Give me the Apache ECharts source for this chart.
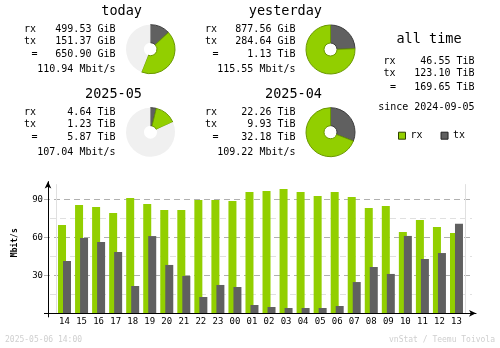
<!DOCTYPE html>
<html>
<head>
<meta charset="utf-8">
<script src="https://cdn.jsdelivr.net/npm/echarts@6/dist/echarts.min.js"></script>
<style>
  html, body { margin: 0; padding: 0; background: #ffffff; }
  #chart { width: 500px; height: 348px; }
</style>
</head>
<body>
<div id="chart"></div>
<script>
// ---- hourly traffic (average Mbit/s per hour) ----
const hours = ['14','15','16','17','18','19','20','21','22','23','00','01','02','03','04','05','06','07','08','09','10','11','12','13'];
const rxMbit = [69.7, 85.5, 83.9, 79.2, 91.0, 86.3, 81.6, 81.6, 89.5, 89.5, 88.7, 95.8, 96.6, 98.2, 95.8, 92.6, 95.8, 91.8, 83.1, 84.7, 64.2, 73.7, 68.2, 63.4];
const txMbit = [41.3, 59.5, 56.3, 48.4, 21.6, 61.0, 38.2, 29.5, 12.9, 22.4, 20.8, 6.6, 5.0, 4.2, 4.2, 4.2, 5.8, 24.7, 36.6, 31.1, 61.1, 42.9, 47.6, 70.8];
const yTickValues = [30, 60, 90];
const dayBreakIndex = 10; // first hour of the new day ("00")

// ---- period summaries ----
const periodTitles = ['today', 'yesterday', '2025-05', '2025-04'];
const periodRx = [499.53, 877.56, 4.64, 22.26];
const periodRxUnit = ['GiB', 'GiB', 'TiB', 'TiB'];
const periodTx = [151.37, 284.64, 1.23, 9.93];
const periodTxUnit = ['GiB', 'GiB', 'TiB', 'TiB'];
const periodTotal = [650.90, 1.13, 5.87, 32.18];
const periodTotalUnit = ['GiB', 'TiB', 'TiB', 'TiB'];
const periodRate = [110.94, 115.55, 107.04, 109.22];

// ---- all time ----
const allTimeRx = 46.55;
const allTimeTx = 123.10;
const allTimeTotal = 169.65;
const allTimeUnit = 'TiB';
const sinceDate = '2024-09-05';

const stampText = '2025-05-06 14:00';
const creditText = 'vnStat / Teemu Toivola';

// ---- styling ----
const RX = '#92cf00', RX_EDGE = '#6a9800';
const TX = '#606060', TX_EDGE = '#3c3c3c';
const PIE_BG = '#f0f0f0';
const MONO = '"DejaVu Sans Mono", "Liberation Mono", monospace';

// vertical scale shared by every grid of the hourly graph
const BASE_Y = 313.333;
const PX_PER_UNIT = 38 / 30;
const topFor = (max) => BASE_Y - max * PX_PER_UNIT;
const BOTTOM = 348 - BASE_Y;

const toGiB = (v, unit) => unit === 'TiB' ? v * 1024 : v;
const fmt = (v, unit) => v.toFixed(2) + ' ' + unit;

// block layouts: [labelX, valueRight, titleRight, rowTopY]
const blocks = [
  { lx: 24, vr: 115.5, tr: 142, y0: 0, pie: [150.5, 49.2] },
  { lx: 205, vr: 295.5, tr: 322, y0: 0, pie: [330.5, 49.5] },
  { lx: 24, vr: 115.5, tr: 142, y0: 83, pie: [150.5, 132.2] },
  { lx: 205, vr: 295.5, tr: 322, y0: 83, pie: [330.5, 132.2] }
];

function txt(x, y, text, font, align, extra) {
  return Object.assign({
    type: 'text', x: x, y: y, silent: true,
    style: { text: text, font: font, fill: '#000', align: align || 'left', verticalAlign: 'middle' }
  }, extra || {});
}

const graphics = [];
const pieSeries = [];
const dataFont = '10px ' + MONO;
const titleFont = '13.5px ' + MONO;

periodTitles.forEach((title, i) => {
  const b = blocks[i];
  graphics.push(txt(b.tr, 11 + b.y0, title, titleFont, 'right'));
  graphics.push(txt(b.lx, 29 + b.y0, 'rx', dataFont));
  graphics.push(txt(b.lx, 41.3 + b.y0, 'tx', dataFont));
  graphics.push(txt(b.lx + 10.5, 54.2 + b.y0, '=', dataFont, 'center'));
  graphics.push(txt(b.vr, 29 + b.y0, fmt(periodRx[i], periodRxUnit[i]), dataFont, 'right'));
  graphics.push(txt(b.vr, 41.3 + b.y0, fmt(periodTx[i], periodTxUnit[i]), dataFont, 'right'));
  graphics.push(txt(b.vr, 54.2 + b.y0, fmt(periodTotal[i], periodTotalUnit[i]), dataFont, 'right'));
  graphics.push(txt(b.vr, 69 + b.y0, periodRate[i].toFixed(2) + ' Mbit/s', dataFont, 'right'));

  // pie: full circle = larger total of the pair (today/yesterday, month/previous month)
  const pair = i < 2 ? [0, 1] : [2, 3];
  const full = Math.max.apply(null, pair.map(k => toGiB(periodRx[k], periodRxUnit[k]) + toGiB(periodTx[k], periodTxUnit[k])));
  const rx = toGiB(periodRx[i], periodRxUnit[i]);
  const tx = toGiB(periodTx[i], periodTxUnit[i]);
  pieSeries.push({
    type: 'pie',
    silent: true,
    center: b.pie,
    radius: [6.5, 24.5],
    startAngle: 90,
    clockwise: true,
    avoidLabelOverlap: false,
    label: { show: false },
    labelLine: { show: false },
    emphasis: { disabled: true },
    data: [
      { name: 'tx', value: tx, itemStyle: { color: TX, borderColor: TX_EDGE, borderWidth: 1 } },
      { name: 'rx', value: rx, itemStyle: { color: RX, borderColor: RX_EDGE, borderWidth: 1 } },
      { name: 'rest', value: Math.max(full - rx - tx, 0), itemStyle: { color: PIE_BG, borderWidth: 0 } }
    ]
  });
});

// all time block
graphics.push(txt(429, 39, 'all time', titleFont, 'center'));
graphics.push(txt(383.5, 61.7, 'rx', dataFont));
graphics.push(txt(383.5, 73.3, 'tx', dataFont));
graphics.push(txt(393, 87.7, '=', dataFont, 'center'));
graphics.push(txt(474.5, 61.7, fmt(allTimeRx, allTimeUnit), dataFont, 'right'));
graphics.push(txt(474.5, 73.3, fmt(allTimeTx, allTimeUnit), dataFont, 'right'));
graphics.push(txt(474.5, 87.7, fmt(allTimeTotal, allTimeUnit), dataFont, 'right'));
graphics.push(txt(474.5, 107.7, 'since ' + sinceDate, dataFont, 'right'));

// axis name and footer
graphics.push(txt(14.5, 242.7, 'Mbit/s', 'bold 8px ' + MONO, 'center', { rotation: Math.PI / 2 }));
graphics.push(Object.assign(txt(5, 340, stampText, '8px ' + MONO, 'left'), {}));
graphics.push(Object.assign(txt(495, 340, creditText, '8px ' + MONO, 'right'), {}));
graphics.slice(-2).forEach(g => { g.style.fill = '#cfcfcf'; });

const chart = echarts.init(document.getElementById('chart'), null, { renderer: 'canvas' });

const hiddenAxis = {
  axisLine: { show: false }, axisTick: { show: false }, axisLabel: { show: false }, splitLine: { show: false }
};

chart.setOption({
  animation: false,
  backgroundColor: '#ffffff',
  legend: {
    left: 398, top: 130.7, padding: 0,
    itemWidth: 7, itemHeight: 7, itemGap: 18,
    icon: 'rect', selectedMode: false,
    textStyle: { fontFamily: MONO, fontSize: 10, color: '#000' },
    data: [
      { name: 'rx', itemStyle: { color: RX, borderColor: '#2e4000', borderWidth: 1 } },
      { name: 'tx', itemStyle: { color: TX, borderColor: '#202020', borderWidth: 1 } }
    ]
  },
  grid: [
    // axes with arrows
    { left: 48, right: 24, top: topFor(104), bottom: BOTTOM },
    // major dashed lines
    { left: 44, right: 28, top: topFor(90), bottom: BOTTOM },
    // minor dashed lines
    { left: 50, right: 28, top: topFor(90), bottom: BOTTOM },
    // bars
    { left: 56, width: 409, top: topFor(102), bottom: BOTTOM }
  ],
  xAxis: [
    {
      gridIndex: 0, type: 'value', min: 0, max: 1, z: 5,
      axisLine: { show: true, symbol: ['none', 'arrow'], symbolSize: [5, 7], lineStyle: { color: '#000', width: 1 } },
      axisTick: { show: true, customValues: [0], length: 4, lineStyle: { color: '#000' } },
      axisLabel: { show: false }, splitLine: { show: false }
    },
    Object.assign({ gridIndex: 1, type: 'value', min: 0, max: 1 }, hiddenAxis),
    Object.assign({ gridIndex: 2, type: 'value', min: 0, max: 1 }, hiddenAxis),
    {
      gridIndex: 3, type: 'category', data: hours, boundaryGap: true,
      axisLine: { show: false }, axisTick: { show: false },
      axisLabel: { show: true, interval: 0, margin: 4, fontFamily: MONO, fontSize: 9, color: '#000' },
      splitLine: { show: true, interval: (idx) => idx === dayBreakIndex, lineStyle: { color: '#e0e0e0', width: 1 } }
    }
  ],
  yAxis: [
    {
      gridIndex: 0, type: 'value', min: 0, max: 104, z: 5,
      axisLine: { show: true, symbol: ['none', 'arrow'], symbolSize: [5, 7], lineStyle: { color: '#000', width: 1 } },
      axisTick: { show: true, customValues: [0], length: 4, lineStyle: { color: '#000' } },
      axisLabel: { show: true, customValues: yTickValues, margin: 5, fontFamily: MONO, fontSize: 9, color: '#000' },
      splitLine: { show: false }
    },
    Object.assign({}, hiddenAxis, {
      gridIndex: 1, type: 'value', min: 0, max: 90, interval: 30,
      splitLine: { show: true, lineStyle: { color: '#b0b0b0', width: 1, type: [6, 4] } }
    }),
    Object.assign({}, hiddenAxis, {
      gridIndex: 2, type: 'value', min: 0, max: 90, interval: 15,
      splitLine: { show: true, lineStyle: { color: ['rgba(0,0,0,0)', '#e0e0e0'], width: 1, type: [6, 4] } }
    }),
    Object.assign({ gridIndex: 3, type: 'value', min: 0, max: 102 }, hiddenAxis)
  ],
  series: [
    {
      name: 'rx', type: 'bar', xAxisIndex: 3, yAxisIndex: 3,
      data: rxMbit, barWidth: 8, barGap: '-37.5%',
      itemStyle: { color: RX }, silent: true
    },
    {
      name: 'tx', type: 'bar', xAxisIndex: 3, yAxisIndex: 3,
      data: txMbit, barWidth: 8, barGap: '-37.5%',
      itemStyle: { color: TX }, silent: true
    }
  ].concat(pieSeries),
  graphic: graphics
});
</script>
</body>
</html>
